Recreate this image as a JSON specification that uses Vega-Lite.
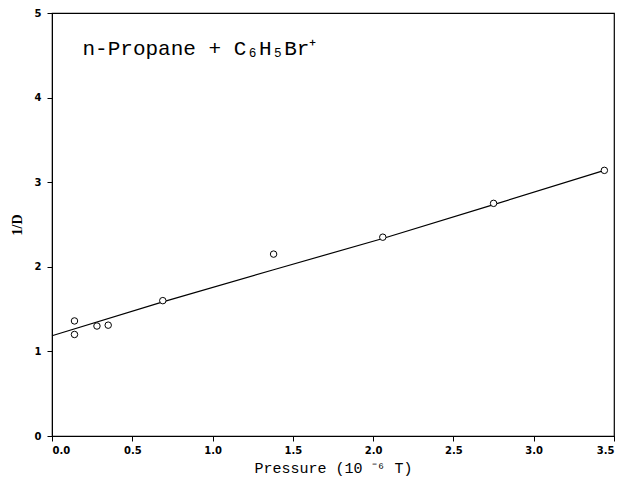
{
  "$schema": "https://vega.github.io/schema/vega-lite/v6.json",
  "autosize": {"type": "none"},
  "width": 562,
  "height": 423,
  "padding": {"left": 52, "top": 13, "right": 9, "bottom": 44},
  "background": "white",
  "config": {
    "view": {"stroke": "black", "strokeWidth": 1.2},
    "axis": {
      "grid": false,
      "domainColor": "black",
      "tickColor": "black",
      "labelColor": "black",
      "titleColor": "black",
      "labelFont": "DejaVu Sans",
      "labelFontWeight": "bold",
      "labelFontSize": 10,
      "tickSize": 5,
      "titleFont": "Liberation Mono",
      "titleFontWeight": "normal"
    }
  },
  "datasets": {
    "points": [
      {"p": 0.14, "d": 1.36},
      {"p": 0.14, "d": 1.20},
      {"p": 0.28, "d": 1.30},
      {"p": 0.35, "d": 1.31},
      {"p": 0.69, "d": 1.60},
      {"p": 1.38, "d": 2.15},
      {"p": 2.06, "d": 2.35},
      {"p": 2.75, "d": 2.75},
      {"p": 3.44, "d": 3.14}
    ],
    "fit": [
      {"p": 0.0, "d": 1.185},
      {"p": 0.69, "d": 1.585},
      {"p": 1.38, "d": 1.965},
      {"p": 2.06, "d": 2.335},
      {"p": 2.75, "d": 2.735},
      {"p": 3.44, "d": 3.14}
    ],
    "label": [
      {"p": 0.19, "d": 4.5, "t": "n-Propane + C₆H₅Br⁺"}
    ]
  },
  "layer": [
    {
      "data": {"name": "fit"},
      "mark": {"type": "line", "color": "black", "strokeWidth": 1.2},
      "encoding": {
        "x": {
          "field": "p", "type": "quantitative",
          "scale": {"domain": [0, 3.5], "nice": false},
          "axis": {"values": [0, 0.5, 1, 1.5, 2, 2.5, 3, 3.5], "format": ".1f", "title": "Pressure (10 ⁻⁶ T)", "titleFontSize": 15, "titlePadding": 5, "labelPadding": 4}
        },
        "y": {
          "field": "d", "type": "quantitative",
          "scale": {"domain": [0, 5], "nice": false},
          "axis": {"values": [0, 1, 2, 3, 4, 5], "format": "d", "title": "1/D", "titleFontSize": 14, "titleFont": "Liberation Serif", "titleFontWeight": "bold", "titlePadding": 10, "labelPadding": 6}
        }
      }
    },
    {
      "data": {"name": "points"},
      "mark": {"type": "point", "shape": "circle", "filled": false, "color": "black", "size": 42, "strokeWidth": 1, "fill": "white", "opacity": 1},
      "encoding": {
        "x": {"field": "p", "type": "quantitative"},
        "y": {"field": "d", "type": "quantitative"}
      }
    },
    {
      "data": {"name": "label"},
      "mark": {"type": "text", "align": "left", "baseline": "alphabetic", "font": "Liberation Mono", "fontSize": 21, "color": "black"},
      "encoding": {
        "x": {"field": "p", "type": "quantitative"},
        "y": {"field": "d", "type": "quantitative"},
        "text": {"field": "t"}
      }
    }
  ]
}
